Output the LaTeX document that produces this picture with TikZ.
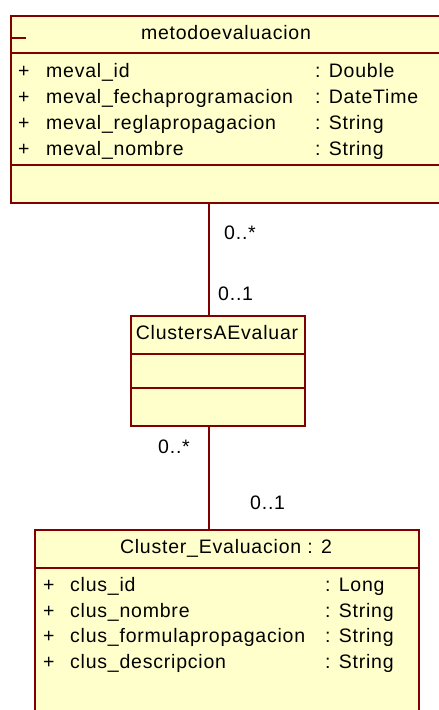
\documentclass[tikz,border=0pt]{standalone}
\usepackage{fontspec}
\setmainfont{Liberation Sans}[LetterSpace=4]
\definecolor{umlred}{RGB}{128,0,0}
\definecolor{umlfill}{RGB}{255,255,204}
\tikzset{
  classbox/.style={draw=umlred, fill=umlfill, line width=2pt, rectangle, anchor=north west, inner sep=0pt},
  classline/.style={draw=umlred, line width=2pt},
  txt/.style={inner sep=0pt, anchor=base west, font=\fontsize{19.5}{23}\selectfont},
  ttl/.style={inner sep=0pt, anchor=base, font=\fontsize{19.5}{23}\selectfont}
}
\begin{document}
\begin{tikzpicture}[x=1pt,y=-1pt]
\clip (0,0) rectangle (439,710);

% Classes
\node[classbox, minimum width=440pt, minimum height=187pt] (metodo) at (10,15) {};
\node[classbox, minimum width=174pt, minimum height=110pt] (clusters) at (130,315) {};
\node[classbox, minimum width=384pt, minimum height=195pt] (cluster) at (34,529) {};

% Compartments
\draw[classline] (10,38) -- (26,38);
\draw[classline] (10,53) -- (450,53);
\draw[classline] (10,165) -- (450,165);
\draw[classline] (130,354) -- (304,354);
\draw[classline] (130,388) -- (304,388);
\draw[classline] (34,568) -- (420,568);

% Associations
\coordinate (linex) at (209,0);
\draw[classline] (metodo.south -| linex) -- (clusters.north -| linex);
\draw[classline] (clusters.south -| linex) -- (cluster.north -| linex);

% Titles
\node[ttl] (metodotitle) at (226,39) {metodoevaluacion};
\node[ttl] (clusterstitle) at (217,339) {ClustersAEvaluar};
\node[ttl] (clustertitle) at (226,553) {Cluster\_Evaluacion : 2};

% Attributes metodoevaluacion
\foreach \y/\n/\t [count=\i] in {77/meval\_id/Double, 103/meval\_fechaprogramacion/DateTime, 129/meval\_reglapropagacion/String, 155/meval\_nombre/String} {
  \node[txt] (mplus\i) at (18,\y) {+};
  \node[txt] (mname\i) at (46,\y) {\n};
  \node[txt] (mtype\i) at (315,\y) {: \t};
}

% Attributes Cluster_Evaluacion
\foreach \y/\n/\t [count=\i] in {591/clus\_id/Long, 617/clus\_nombre/String, 642/clus\_formulapropagacion/String, 668/clus\_descripcion/String} {
  \node[txt] (cplus\i) at (43,\y) {+};
  \node[txt] (cname\i) at (70,\y) {\n};
  \node[txt] (ctype\i) at (325,\y) {: \t};
}

% Multiplicities
\node[txt] (mult1) at (224,239) {0..*};
\node[txt] (mult2) at (218,300) {0..1};
\node[txt] (mult3) at (158,453) {0..*};
\node[txt] (mult4) at (250,509) {0..1};

\end{tikzpicture}
\end{document}
